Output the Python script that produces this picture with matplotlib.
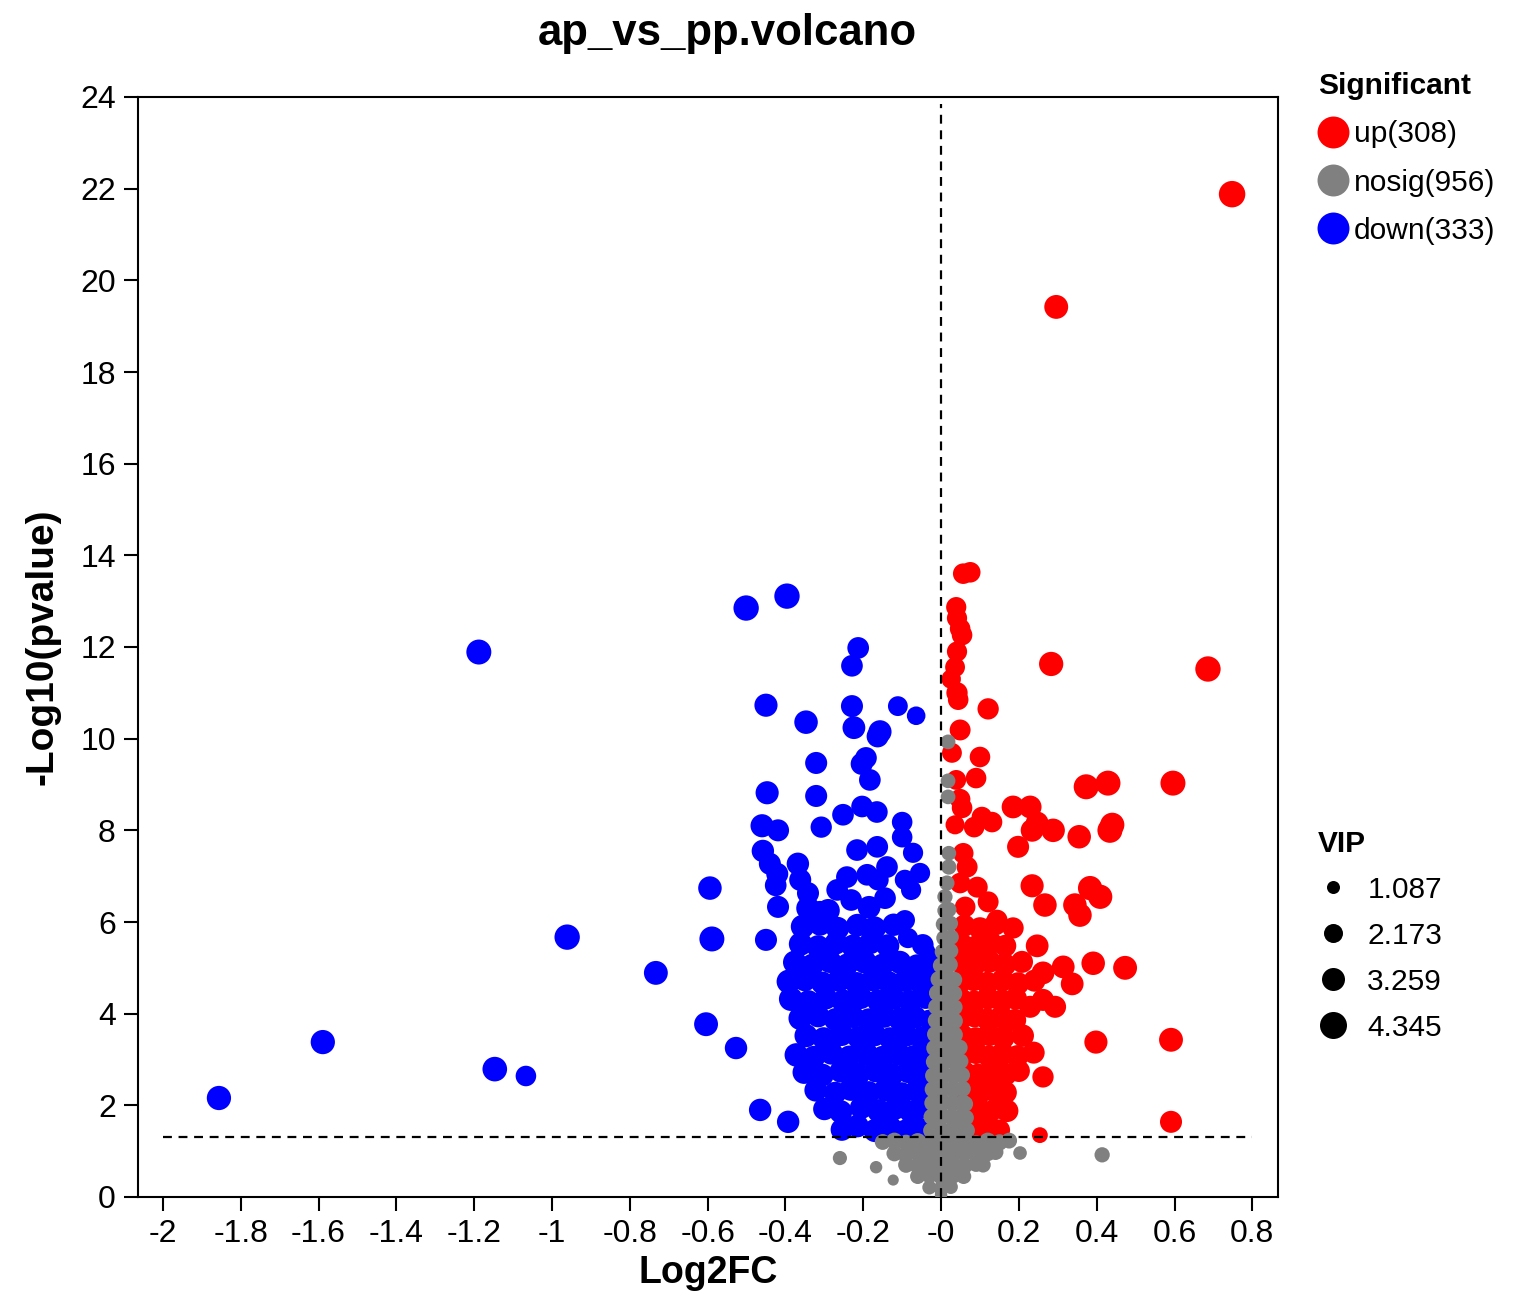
#!/usr/bin/env python3
"""
plot.py -- volcano plot ap_vs_pp (Log2FC vs -Log10(pvalue)), point size by VIP.
Writes out.png.
"""
import numpy as np
import matplotlib
matplotlib.use("Agg")
import matplotlib.pyplot as plt
from matplotlib.lines import Line2D

DPI = 100

# group counts as printed in the legend
groups = ["up", "nosig", "down"]
group_counts = [308, 956, 333]
group_colors = {"up": "#ff0000", "nosig": "#808080", "down": "#0000ff"}

# VIP size legend values
vip_breaks = [1.087, 2.173, 3.259, 4.345]

# (log2fc, -log10 p, vip)
up_pts = [
    (0.748, 21.88, 4.2), (0.296, 19.42, 3.5), (0.686, 11.52, 3.9), (0.283, 11.63, 3.6),
    (0.596, 9.03, 3.8), (0.591, 3.43, 3.5), (0.591, 1.64, 3.0), (0.398, 3.38, 3.3),
    (0.473, 5.00, 3.5), (0.391, 5.10, 3.4), (0.383, 6.74, 3.6), (0.409, 6.55, 3.6),
    (0.344, 6.37, 3.4), (0.357, 6.15, 3.4), (0.337, 4.65, 3.2), (0.314, 5.02, 3.2),
    (0.247, 5.48, 3.2), (0.234, 6.79, 3.3), (0.267, 6.37, 3.4), (0.262, 4.89, 3.2),
    (0.293, 4.15, 3.0), (0.229, 4.15, 3.0), (0.262, 2.62, 2.8), (0.254, 1.35, 1.6),
    (0.373, 8.95, 3.8), (0.429, 9.03, 3.8), (0.434, 8.00, 3.8), (0.440, 8.12, 3.6),
    (0.355, 7.86, 3.4), (0.185, 8.51, 3.2), (0.229, 8.51, 3.2), (0.247, 8.16, 3.2),
    (0.234, 8.00, 3.2), (0.288, 8.00, 3.4), (0.198, 7.64, 3.0),
    (0.057, 13.60, 2.6), (0.075, 13.63, 2.6), (0.039, 12.87, 2.5), (0.041, 12.63, 2.5),
    (0.049, 12.40, 2.6), (0.054, 12.26, 2.6), (0.041, 11.90, 2.5), (0.036, 11.56, 2.4),
    (0.026, 11.30, 2.3), (0.041, 11.00, 2.8), (0.044, 10.85, 2.6), (0.121, 10.65, 2.8),
    (0.049, 10.19, 2.7), (0.028, 9.69, 2.4), (0.100, 9.60, 2.6), (0.090, 9.14, 2.6),
    (0.039, 9.10, 2.4), (0.049, 8.68, 2.6), (0.054, 8.49, 2.6), (0.036, 8.12, 2.2),
    (0.085, 8.07, 2.6), (0.105, 8.29, 2.6), (0.131, 8.18, 2.6), (0.057, 7.50, 2.6),
    (0.067, 7.20, 2.7), (0.049, 6.85, 2.6), (0.093, 6.76, 2.7), (0.121, 6.44, 2.7),
    (0.062, 6.33, 2.6), (0.144, 6.04, 2.7), (0.185, 5.87, 2.8),
    # dense block right of zero
    (0.092, 1.48, 2.9), (0.125, 1.53, 3.0), (0.150, 1.46, 2.8),
    (0.074, 1.92, 3.1), (0.108, 1.86, 3.2), (0.142, 1.94, 3.0), (0.170, 1.88, 3.1),
    (0.066, 2.32, 3.2), (0.100, 2.27, 3.0), (0.134, 2.34, 3.2), (0.166, 2.28, 3.1),
    (0.060, 2.72, 3.1), (0.095, 2.66, 3.2), (0.130, 2.74, 3.0), (0.166, 2.68, 3.2), (0.200, 2.75, 3.0),
    (0.056, 3.10, 3.1), (0.090, 3.15, 3.2), (0.124, 3.06, 3.1), (0.158, 3.13, 3.2), (0.196, 3.07, 3.1), (0.238, 3.15, 3.0),
    (0.054, 3.52, 3.2), (0.089, 3.46, 3.1), (0.124, 3.54, 3.2), (0.160, 3.48, 3.2), (0.210, 3.52, 3.1),
    (0.052, 3.90, 3.1), (0.086, 3.95, 3.2), (0.120, 3.87, 3.1), (0.155, 3.93, 3.2), (0.190, 3.86, 3.1),
    (0.050, 4.32, 3.2), (0.085, 4.26, 3.1), (0.120, 4.34, 3.2), (0.156, 4.28, 3.2), (0.192, 4.33, 3.1), (0.262, 4.30, 3.0),
    (0.050, 4.70, 3.1), (0.084, 4.74, 3.2), (0.119, 4.67, 3.1), (0.158, 4.73, 3.2), (0.198, 4.66, 3.1), (0.240, 4.72, 3.0),
    (0.051, 5.12, 3.2), (0.086, 5.06, 3.1), (0.124, 5.14, 3.2), (0.164, 5.07, 3.2), (0.208, 5.13, 3.0),
    (0.052, 5.52, 3.1), (0.090, 5.46, 3.2), (0.128, 5.54, 3.2), (0.165, 5.48, 3.0),
    (0.060, 5.92, 3.0), (0.100, 5.86, 3.1), (0.140, 5.95, 3.0),
]

down_pts = [
    (-1.856, 2.16, 3.6), (-1.589, 3.38, 3.6), (-1.188, 11.89, 3.8), (-1.147, 2.79, 3.7),
    (-1.067, 2.64, 2.6), (-0.961, 5.67, 3.9), (-0.733, 4.89, 3.5), (-0.604, 3.77, 3.5),
    (-0.594, 6.74, 3.4), (-0.589, 5.63, 3.8), (-0.527, 3.25, 3.1), (-0.501, 12.85, 3.9),
    (-0.396, 13.11, 3.9), (-0.465, 1.90, 3.1), (-0.393, 1.64, 3.1), (-0.450, 10.73, 3.3),
    (-0.347, 10.36, 3.4), (-0.213, 11.98, 2.9), (-0.229, 11.59, 2.9), (-0.229, 10.71, 3.0),
    (-0.224, 10.24, 3.2), (-0.157, 10.15, 3.3), (-0.163, 10.05, 3.0), (-0.111, 10.71, 2.4),
    (-0.064, 10.50, 2.1), (-0.321, 9.47, 3.0), (-0.204, 9.45, 3.0), (-0.193, 9.58, 2.9),
    (-0.183, 9.10, 2.9), (-0.447, 8.82, 3.3), (-0.321, 8.75, 3.0), (-0.252, 8.34, 2.9),
    (-0.203, 8.52, 2.9), (-0.165, 8.40, 2.9), (-0.100, 8.18, 2.6), (-0.100, 7.85, 2.6),
    (-0.308, 8.07, 2.8), (-0.460, 8.10, 3.3), (-0.419, 8.00, 3.0), (-0.458, 7.55, 3.1),
    (-0.440, 7.27, 3.0), (-0.368, 7.27, 3.1), (-0.216, 7.57, 2.9), (-0.164, 7.64, 2.9),
    (-0.072, 7.51, 2.5), (-0.054, 7.07, 2.5), (-0.242, 6.98, 2.9), (-0.190, 7.03, 2.9),
    (-0.139, 7.20, 2.9), (-0.362, 6.92, 3.0), (-0.421, 7.05, 3.0), (-0.425, 6.80, 2.9),
    (-0.419, 6.33, 3.0), (-0.450, 5.61, 3.0), (-0.342, 6.63, 3.0), (-0.311, 6.22, 3.0),
    (-0.267, 6.70, 2.9), (-0.231, 6.48, 2.9), (-0.144, 6.52, 2.9), (-0.077, 6.70, 2.5),
    (-0.093, 6.04, 2.5), (-0.085, 5.65, 2.5), (-0.093, 6.92, 2.5), (-0.162, 6.92, 2.8),
    (-0.036, 5.35, 1.8),
    # dense block left of zero
    (-0.255, 1.47, 3.1), (-0.215, 1.55, 3.2), (-0.170, 1.45, 3.3), (-0.130, 1.52, 3.1), (-0.092, 1.44, 3.2), (-0.058, 1.50, 3.0),
    (-0.300, 1.92, 3.1), (-0.258, 1.86, 3.3), (-0.205, 1.95, 3.2), (-0.160, 1.88, 3.4), (-0.118, 1.93, 3.1), (-0.078, 1.86, 3.2), (-0.045, 1.95, 2.9),
    (-0.322, 2.33, 3.2), (-0.272, 2.27, 3.1), (-0.232, 2.35, 3.3), (-0.186, 2.28, 3.2), (-0.142, 2.34, 3.4), (-0.101, 2.26, 3.1), (-0.063, 2.32, 3.2), (-0.034, 2.25, 2.8),
    (-0.352, 2.72, 3.3), (-0.305, 2.66, 3.2), (-0.258, 2.74, 3.1), (-0.213, 2.68, 3.4), (-0.168, 2.75, 3.2), (-0.126, 2.67, 3.3), (-0.085, 2.73, 3.1), (-0.046, 2.69, 3.0),
    (-0.372, 3.10, 3.4), (-0.327, 3.05, 3.2), (-0.282, 3.14, 3.3), (-0.236, 3.06, 3.1), (-0.192, 3.12, 3.4), (-0.150, 3.05, 3.2), (-0.110, 3.13, 3.3), (-0.070, 3.07, 3.1), (-0.035, 3.12, 2.8),
    (-0.347, 3.52, 3.3), (-0.302, 3.46, 3.1), (-0.256, 3.55, 3.4), (-0.212, 3.48, 3.2), (-0.171, 3.54, 3.3), (-0.131, 3.46, 3.1), (-0.090, 3.53, 3.2), (-0.052, 3.47, 3.0),
    (-0.362, 3.90, 3.4), (-0.316, 3.95, 3.2), (-0.271, 3.87, 3.3), (-0.226, 3.93, 3.1), (-0.186, 3.86, 3.4), (-0.146, 3.94, 3.2), (-0.106, 3.88, 3.3), (-0.066, 3.92, 3.1), (-0.030, 3.86, 2.7),
    (-0.386, 4.32, 3.5), (-0.341, 4.26, 3.3), (-0.296, 4.34, 3.2), (-0.251, 4.27, 3.4), (-0.206, 4.35, 3.2), (-0.161, 4.28, 3.3), (-0.121, 4.33, 3.1), (-0.080, 4.27, 3.2), (-0.040, 4.34, 2.9),
    (-0.392, 4.70, 3.5), (-0.350, 4.74, 3.3), (-0.305, 4.67, 3.2), (-0.262, 4.73, 3.4), (-0.217, 4.66, 3.2), (-0.175, 4.74, 3.3), (-0.134, 4.68, 3.1), (-0.092, 4.72, 3.2), (-0.052, 4.66, 3.0), (-0.026, 4.74, 2.6),
    (-0.376, 5.12, 3.4), (-0.331, 5.06, 3.2), (-0.286, 5.14, 3.3), (-0.241, 5.07, 3.1), (-0.196, 5.13, 3.4), (-0.151, 5.06, 3.2), (-0.106, 5.12, 3.3), (-0.062, 5.05, 3.1), (-0.030, 5.13, 2.7),
    (-0.361, 5.52, 3.4), (-0.316, 5.46, 3.3), (-0.270, 5.54, 3.2), (-0.226, 5.47, 3.4), (-0.181, 5.55, 3.2), (-0.137, 5.48, 3.3), (-0.047, 5.50, 2.9),
    (-0.356, 5.90, 3.4), (-0.311, 5.95, 3.2), (-0.266, 5.86, 3.3), (-0.215, 5.93, 3.2), (-0.171, 5.87, 3.3), (-0.122, 5.94, 3.1),
    (-0.342, 6.30, 3.4), (-0.290, 6.25, 3.3), (-0.185, 6.32, 3.2),
]

nosig_pts = [
    # outliers below the cut-off
    (-0.260, 0.85, 1.3), (-0.167, 0.65, 1.0), (-0.123, 0.37, 0.8), (0.203, 0.96, 1.2), (0.414, 0.92, 1.5),
    # funnel under the p = 0.05 line
    (-0.150, 1.20, 1.6), (-0.120, 1.22, 1.8), (-0.090, 1.18, 1.7), (-0.060, 1.21, 1.8), (-0.030, 1.17, 1.7), (0.000, 1.22, 1.8),
    (0.030, 1.18, 1.7), (0.060, 1.21, 1.8), (0.090, 1.17, 1.7), (0.120, 1.22, 1.8), (0.150, 1.19, 1.7), (0.175, 1.23, 1.6),
    (-0.120, 0.95, 1.6), (-0.090, 0.92, 1.7), (-0.060, 0.97, 1.8), (-0.030, 0.93, 1.7), (0.000, 0.96, 1.8),
    (0.030, 0.92, 1.7), (0.060, 0.97, 1.8), (0.090, 0.93, 1.7), (0.120, 0.96, 1.7), (0.140, 0.98, 1.6),
    (-0.090, 0.70, 1.6), (-0.060, 0.68, 1.7), (-0.030, 0.72, 1.8), (0.000, 0.69, 1.7), (0.030, 0.71, 1.8),
    (0.060, 0.68, 1.7), (0.090, 0.72, 1.6), (0.108, 0.70, 1.5),
    (-0.060, 0.45, 1.5), (-0.030, 0.47, 1.6), (0.000, 0.44, 1.6), (0.030, 0.46, 1.6), (0.058, 0.45, 1.5),
    (-0.030, 0.21, 1.3), (0.000, 0.19, 1.4), (0.025, 0.22, 1.3), (0.000, 0.05, 1.0),
    # column above the line
    (-0.025, 1.45, 1.7), (0.000, 1.47, 1.8), (0.025, 1.44, 1.8), (0.050, 1.48, 1.7), (0.066, 1.45, 1.7),
    (-0.024, 1.75, 1.7), (0.002, 1.77, 1.8), (0.028, 1.74, 1.7), (0.054, 1.76, 1.7), (0.064, 1.73, 1.6),
    (-0.022, 2.05, 1.7), (0.004, 2.07, 1.8), (0.030, 2.04, 1.7), (0.056, 2.06, 1.7), (0.062, 2.03, 1.6),
    (-0.021, 2.35, 1.7), (0.005, 2.37, 1.8), (0.031, 2.34, 1.7), (0.056, 2.36, 1.6),
    (-0.020, 2.65, 1.7), (0.006, 2.67, 1.8), (0.032, 2.64, 1.7), (0.054, 2.66, 1.6),
    (-0.018, 2.95, 1.7), (0.008, 2.97, 1.8), (0.034, 2.94, 1.7), (0.050, 2.96, 1.6),
    (-0.017, 3.25, 1.7), (0.009, 3.27, 1.8), (0.034, 3.24, 1.7), (0.048, 3.26, 1.6),
    (-0.015, 3.55, 1.7), (0.010, 3.57, 1.8), (0.035, 3.54, 1.7),
    (-0.013, 3.85, 1.7), (0.011, 3.87, 1.8), (0.035, 3.84, 1.7),
    (-0.012, 4.15, 1.7), (0.012, 4.17, 1.8), (0.035, 4.14, 1.6),
    (-0.010, 4.45, 1.7), (0.014, 4.47, 1.8), (0.034, 4.44, 1.6),
    (-0.006, 4.75, 1.7), (0.016, 4.77, 1.7), (0.034, 4.74, 1.6),
    (0.000, 5.05, 1.7), (0.022, 5.07, 1.7), (0.004, 5.35, 1.6), (0.024, 5.37, 1.6),
    (0.008, 5.65, 1.6), (0.026, 5.67, 1.5), (0.006, 5.95, 1.5), (0.024, 5.97, 1.5),
    (0.010, 6.25, 1.5), (0.020, 6.27, 1.5), (0.010, 6.55, 1.5), (0.015, 6.85, 1.5),
    (0.020, 7.20, 1.5), (0.020, 7.50, 1.4), (0.018, 8.73, 1.4), (0.018, 9.08, 1.4), (0.018, 9.93, 1.4),
]


def vip_diam_px(vip):
    # marker diameter (pixels)
    return np.interp(vip, [0.3, 1.087, 2.173, 3.259, 4.345], [8, 13, 19, 23, 27])


def vip_to_s(vip):
    return (vip_diam_px(np.asarray(vip)) * 72.0 / DPI) ** 2


plt.rcParams["font.family"] = ["Liberation Sans", "DejaVu Sans"]
plt.rcParams["axes.unicode_minus"] = False

fig = plt.figure(figsize=(15.16, 13.15), dpi=DPI)
ax = fig.add_axes([138 / 1516, 1 - 1197 / 1315, 1140 / 1516, 1100 / 1315])

data = {"up": up_pts, "nosig": nosig_pts, "down": down_pts}
for g, z in [("up", 2), ("down", 2.5), ("nosig", 3)]:
    arr = np.array(data[g])
    ax.scatter(arr[:, 0], arr[:, 1], s=vip_to_s(arr[:, 2]), c=group_colors[g],
               linewidths=0, zorder=z)

ax.hlines(-np.log10(0.05), -2.0, 0.8, color="black", lw=1.6, ls=(0, (4, 3)), zorder=4)
ax.vlines(0, 0, 23.85, color="black", lw=1.6, ls=(0, (4, 3)), zorder=4)

ax.set_xlim(-2.064, 0.866)
ax.set_ylim(0, 24)
xt = np.round(np.arange(-2.0, 0.81, 0.2), 1)
ax.set_xticks(xt)
ax.set_xticklabels([f"{v:g}" for v in xt])
ax.set_yticks(np.arange(0, 25, 2))
ax.tick_params(direction="out", length=10, width=1.5, pad=6, labelsize=23)
for sp in ax.spines.values():
    sp.set_linewidth(1.5)

ax.set_xlabel("Log2FC", fontsize=27, fontweight="bold", labelpad=4)
ax.set_ylabel("-Log10(pvalue)", fontsize=28, fontweight="bold", labelpad=14)
fig.text(727 / 1516, 1 - 34 / 1315, "ap_vs_pp.volcano", ha="center", va="center",
         fontsize=31.5, fontweight="bold")

# significance legend
sig_handles = [Line2D([], [], ls="", marker="o", markersize=23, markeredgewidth=0,
                      color=group_colors[g]) for g in groups]
sig_labels = [f"{g}({n})" for g, n in zip(groups, group_counts)]
leg1 = ax.legend(sig_handles, sig_labels, title="Significant", loc="upper left",
                 bbox_to_anchor=(1318 / 1516, 1 - 72 / 1315), bbox_transform=fig.transFigure,
                 frameon=False, fontsize=21.5, title_fontproperties={"weight": "bold", "size": 21.5},
                 alignment="left", handlelength=1.0, handletextpad=0.2,
                 labelspacing=0.68, borderaxespad=0, borderpad=0)
ax.add_artist(leg1)

vip_handles = [Line2D([], [], ls="", marker="o", markeredgewidth=0, color="black",
                      markersize=float(vip_diam_px(v)) * 72.0 / DPI) for v in vip_breaks]
leg2 = ax.legend(vip_handles, [f"{v:.3f}" for v in vip_breaks], title="VIP", loc="upper left",
                 bbox_to_anchor=(1318 / 1516, 1 - 830 / 1315), bbox_transform=fig.transFigure,
                 frameon=False, fontsize=21.5, title_fontproperties={"weight": "bold", "size": 21.5},
                 alignment="left", handlelength=1.0, handletextpad=0.65,
                 labelspacing=0.6, borderaxespad=0, borderpad=0)

fig.savefig("out.png", dpi=DPI)
